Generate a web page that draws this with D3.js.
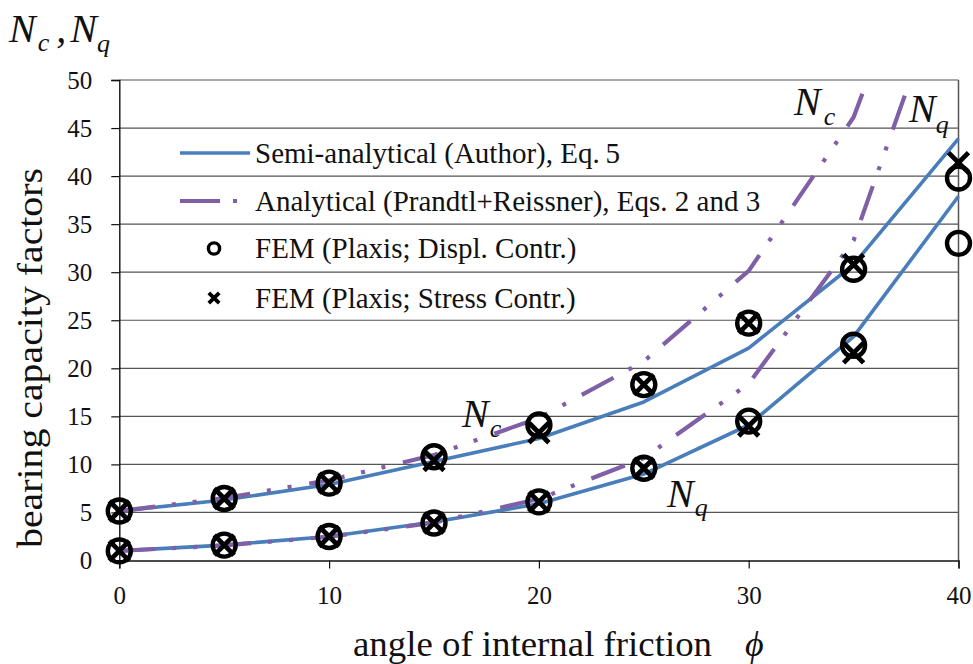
<!DOCTYPE html>
<html>
<head>
<meta charset="utf-8">
<script src="https://cdn.jsdelivr.net/npm/d3@7"></script>
<style>
  html, body { margin: 0; padding: 0; background: #fff; }
  svg { display: block; }
</style>
</head>
<body>
<svg id="chart" width="973" height="664"></svg>
<script>
// angle of internal friction (degrees)
const phi = [0, 5, 10, 15, 20, 25, 30, 35, 40];

// semi-analytical solution (Author), Eq. 5
const semiNc = [5.14, 6.3, 7.9, 10.3, 12.7, 16.5, 22.1, 30.8, 43.9];
const semiNq = [1.0, 1.6, 2.5, 4.0, 5.9, 9.0, 14.1, 23.3, 37.9];

// analytical solution (Prandtl + Reissner), Eqs. 2 and 3
const analNc = [5.14, 6.49, 8.35, 10.98, 14.83, 20.72, 30.14, 46.12, 75.31];
const analNq = [1.0, 1.57, 2.47, 3.94, 6.40, 10.66, 18.40, 33.30, 64.20];

// FEM (Plaxis), displacement controlled
const femDispNc = [5.15, 6.45, 8.05, 10.8, 14.1, 18.3, 24.7, 30.3, 39.8];
const femDispNq = [1.0, 1.6, 2.5, 3.9, 6.1, 9.6, 14.5, 22.4, 33.0];

// FEM (Plaxis), stress controlled
const femStressNc = [5.15, 6.45, 8.05, 10.4, 13.3, 18.3, 24.7, 30.8, 41.4];
const femStressNq = [1.0, 1.6, 2.5, 3.9, 6.1, 9.6, 14.0, 21.6, null];

const xTicks = [0, 10, 20, 30, 40];
const yTicks = [0, 5, 10, 15, 20, 25, 30, 35, 40, 45, 50];

const legendLabels = [
  "Semi-analytical (Author), Eq.\u20095",
  "Analytical (Prandtl+Reissner), Eqs. 2 and 3",
  "FEM (Plaxis; Displ. Contr.)",
  "FEM (Plaxis; Stress Contr.)"
];

const SERIF = "'Liberation Serif', 'Times New Roman', Tinos, serif";
const BLUE = "#4a7ebb";
const PURPLE = "#7f5fa6";
const DASHDOTDOT = "36,17,4,17,4,18";

const svg = d3.select("#chart").style("font-family", SERIF);

const x = d3.scaleLinear().domain([0, 40]).range([119.3, 958.5]);
const y = d3.scaleLinear().domain([0, 50]).range([560.5, 80]);

// clip region for the plot area
svg.append("defs").append("clipPath").attr("id", "plotClip")
  .append("rect")
  .attr("x", x(0) - 2).attr("y", y(50))
  .attr("width", x(40) - x(0) + 4).attr("height", y(0) - y(50));

// horizontal gridlines
svg.append("g")
  .selectAll("line")
  .data(yTicks.filter(d => d > 0))
  .join("line")
  .attr("x1", x(0)).attr("x2", x(40))
  .attr("y1", d => y(d)).attr("y2", d => y(d))
  .attr("stroke", "#555").attr("stroke-width", 1.2);

// right border of the plot
svg.append("line")
  .attr("x1", x(40)).attr("x2", x(40))
  .attr("y1", y(50)).attr("y2", y(0))
  .attr("stroke", "#555").attr("stroke-width", 1.5);

// y axis
const yAxis = d3.axisLeft(y).tickValues(yTicks).tickSize(8).tickPadding(19).tickFormat(d3.format("d"));
const gy = svg.append("g").attr("transform", `translate(${x(0)},0)`).call(yAxis);
gy.attr("font-family", null).attr("font-size", null);
gy.select(".domain").attr("stroke", "#111").attr("stroke-width", 1.4);
gy.selectAll(".tick line").attr("stroke", "#111").attr("stroke-width", 1.2);
gy.selectAll(".tick text")
  .style("font-family", SERIF).style("font-size", "25px").attr("fill", "#111");

// x axis
const xAxis = d3.axisBottom(x).tickValues(xTicks).tickSize(8).tickPadding(18).tickFormat(d3.format("d"));
const gx = svg.append("g").attr("transform", `translate(0,${y(0)})`).call(xAxis);
gx.attr("font-family", null).attr("font-size", null);
gx.select(".domain").attr("stroke", "#111").attr("stroke-width", 1.4);
gx.selectAll(".tick line").attr("stroke", "#111").attr("stroke-width", 1.2);
gx.selectAll(".tick text")
  .style("font-family", SERIF).style("font-size", "25px").attr("fill", "#111");

// curves
const line = d3.line()
  .defined(d => d[1] != null)
  .x(d => x(d[0])).y(d => y(d[1]));
const pairs = vals => phi.map((p, i) => [p, vals[i]]);

const curves = svg.append("g").attr("clip-path", "url(#plotClip)");
[semiNc, semiNq].forEach(vals => {
  curves.append("path").datum(pairs(vals))
    .attr("d", line).attr("fill", "none")
    .attr("stroke", BLUE).attr("stroke-width", 3.6)
    .attr("stroke-linejoin", "round");
});
[analNc, analNq].forEach(vals => {
  curves.append("path").datum(pairs(vals))
    .attr("d", line).attr("fill", "none")
    .attr("stroke", PURPLE).attr("stroke-width", 4.2)
    .attr("stroke-dasharray", DASHDOTDOT);
});

// FEM markers
const crossPath = h => `M${-h},${-h}L${h},${h}M${-h},${h}L${h},${-h}`;
const markers = svg.append("g");
[femDispNc, femDispNq].forEach(vals => {
  markers.append("g").selectAll("circle")
    .data(pairs(vals).filter(d => d[1] != null))
    .join("circle")
    .attr("cx", d => x(d[0])).attr("cy", d => y(d[1]))
    .attr("r", 11.5).attr("fill", "none")
    .attr("stroke", "#000").attr("stroke-width", 4.4);
});
[femStressNc, femStressNq].forEach(vals => {
  markers.append("g").selectAll("path")
    .data(pairs(vals).filter(d => d[1] != null))
    .join("path")
    .attr("transform", d => `translate(${x(d[0])},${y(d[1])})`)
    .attr("d", crossPath(10)).attr("fill", "none")
    .attr("stroke", "#000").attr("stroke-width", 4.8);
});

// helper for text with inline serif style
function label(sel, px, py, size, italic) {
  return sel.append("text").attr("x", px).attr("y", py)
    .style("font-family", SERIF).style("font-size", size + "px")
    .style("font-style", italic ? "italic" : "normal")
    .attr("fill", "#111");
}

// legend
const legend = svg.append("g");
const rowY = [153, 201, 248.5, 298];
legend.append("line")
  .attr("x1", 180).attr("x2", 250).attr("y1", rowY[0]).attr("y2", rowY[0])
  .attr("stroke", BLUE).attr("stroke-width", 3.6);
legend.append("line")
  .attr("x1", 180).attr("x2", 240).attr("y1", rowY[1]).attr("y2", rowY[1])
  .attr("stroke", PURPLE).attr("stroke-width", 4.2)
  .attr("stroke-dasharray", "40,13,4,30");
legend.append("circle")
  .attr("cx", 214).attr("cy", rowY[2]).attr("r", 5.6)
  .attr("fill", "none").attr("stroke", "#000").attr("stroke-width", 3.4);
legend.append("path")
  .attr("transform", `translate(214,${rowY[3]})`)
  .attr("d", crossPath(5.2)).attr("fill", "none")
  .attr("stroke", "#000").attr("stroke-width", 3.8);
legendLabels.forEach((t, i) => {
  label(legend, 255, rowY[i] + 9.8, 29, false).text(t);
});

// axis titles
label(svg, 353, 656, 36, false)
  .attr("textLength", 359).attr("lengthAdjust", "spacingAndGlyphs")
  .text("angle of internal friction");
label(svg, 745, 656, 36, true).text("\u03d5");

label(svg, 0, 0, 36, false)
  .attr("transform", "translate(42,548) rotate(-90)")
  .attr("textLength", 380).attr("lengthAdjust", "spacingAndGlyphs")
  .text("bearing capacity factors");

// italic symbol with subscript
function symbolLabel(px, py, main, sub, subDx, subDy) {
  const t = label(svg, px, py, 40, true);
  t.append("tspan").text(main);
  t.append("tspan").attr("dx", subDx).attr("dy", subDy)
    .style("font-size", "26px").text(sub);
  return t;
}

// top-left axis symbol "Nc , Nq"
const head = label(svg, 9, 42, 40, true);
head.append("tspan").text("N");
head.append("tspan").attr("dx", 2).attr("dy", 9).style("font-size", "26px").text("c");
head.append("tspan").attr("dx", 7).attr("dy", -9).text(",");
head.append("tspan").attr("dx", 4).text("N");
head.append("tspan").attr("dx", 0).attr("dy", 10).style("font-size", "26px").text("q");

// curve labels
symbolLabel(462, 427, "N", "c", 1, 10);
symbolLabel(667, 507, "N", "q", 1, 9);
symbolLabel(794, 115, "N", "c", 3, 10);
symbolLabel(909, 122, "N", "q", 0, 11);
</script>
</body>
</html>
